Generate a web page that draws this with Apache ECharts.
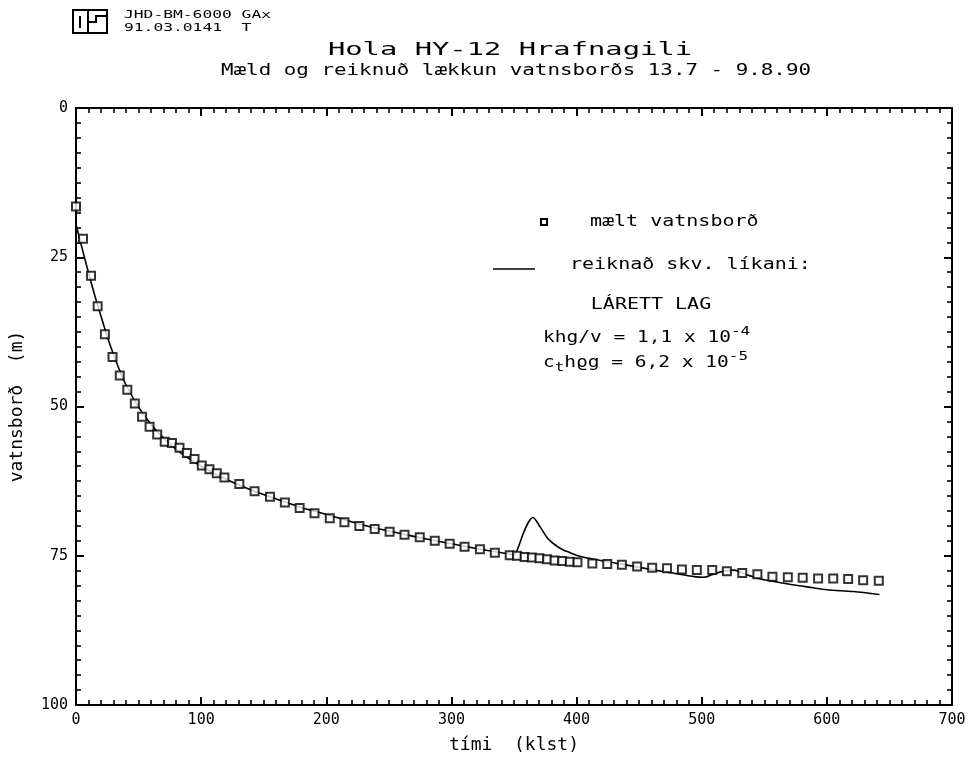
<!DOCTYPE html>
<html>
<head>
<meta charset="utf-8">
<script src="https://cdn.jsdelivr.net/npm/echarts@6/dist/echarts.min.js"></script>
<style>html,body{margin:0;padding:0;background:#fff}#c{width:971px;height:762px}</style>
</head>
<body>
<div id="c"></div>
<script>
// measured water level (time in hours, depth in m)
const timeMeasured = [0, 5.6, 12, 17.3, 23.1, 29.2, 35, 41, 47, 52.8, 58.8, 64.9, 70.9, 76.7, 82.7, 88.6, 94.7, 100.5, 106.6, 112.5, 118.6,
  130.5, 142.7, 155, 166.9, 178.7, 190.6, 202.8, 214.5, 226.4, 238.7, 250.6, 262.5, 274.7, 286.7, 298.6, 310.5, 322.8, 334.7,
  346.6, 352.4, 358.5, 364.3, 370.4, 376.5, 382.4, 388.5, 394.6, 400.7,
  412.6, 424.5, 436.2, 448.4, 460.4, 472.3, 484.2, 496.1, 508.4, 520.1, 532.4, 544.5, 556.5, 568.8, 580.7, 593, 605.1, 617, 629, 641.5];
const levelMeasured = [16.5, 21.9, 28.1, 33.2, 37.9, 41.7, 44.8, 47.2, 49.5, 51.7, 53.4, 54.7, 55.9, 56.1, 56.9, 57.8, 58.8, 59.9, 60.5, 61.2, 61.9,
  63.0, 64.2, 65.1, 66.1, 67.0, 67.9, 68.7, 69.4, 70.0, 70.5, 71.0, 71.5, 71.9, 72.5, 73.0, 73.5, 73.9, 74.5,
  74.9, 75.0, 75.2, 75.3, 75.4, 75.6, 75.8, 75.9, 76.0, 76.1,
  76.3, 76.4, 76.5, 76.8, 77.0, 77.1, 77.3, 77.4, 77.4, 77.6, 77.9, 78.1, 78.5, 78.6, 78.7, 78.8, 78.8, 78.9, 79.1, 79.2];
// computed (model) water level
const timeModel = [0, 5, 10, 15, 20, 25, 30, 35, 40, 50, 60, 70, 80, 90, 100, 120, 140, 160, 180, 200, 220, 240, 260, 280, 300, 320, 340, 350,
  353, 357, 361, 365, 371, 377, 383, 389, 395, 401, 414, 436, 462, 480, 494, 502, 508, 515, 526, 536, 547, 560, 574, 587, 600, 621, 642];
const levelModel = [19.5, 23.6, 27.6, 31.4, 34.9, 38.3, 41.3, 44.0, 46.4, 50.1, 53.0, 55.3, 57.2, 58.7, 60.0, 62.2, 64.0, 65.5, 66.9, 68.1, 69.3, 70.4, 71.3, 72.2, 73.0, 73.8, 74.5, 74.8,
  73.8, 71.5, 69.6, 68.6, 70.2, 72.1, 73.2, 74.0, 74.5, 75.0, 75.6, 76.4, 77.4, 78.0, 78.5, 78.6, 78.2, 77.7, 77.4, 78.2, 78.9, 79.4, 79.9, 80.3, 80.7, 81.0, 81.5];
const xTicks = [0, 100, 200, 300, 400, 500, 600, 700];
const yTicks = [0, 25, 50, 75, 100];

const FONT = 'DejaVu Sans Mono';
const measured = timeMeasured.map((t, i) => [t, levelMeasured[i]]);
const model = timeModel.map((t, i) => [t, levelModel[i]]);

const axisLine = { show: true, onZero: false, lineStyle: { color: '#000', width: 2 } };
const tick = { show: true, inside: true, length: 8, lineStyle: { color: '#000', width: 2 } };
const minor = { show: true, splitNumber: 10, length: 5, lineStyle: { color: '#000', width: 1.6 } };

function txt(x, y, text, size, sx, align, extra) {
  return Object.assign({ type: 'text', x: x, y: y, scaleX: sx, scaleY: 1,
    style: { text: text, font: size + 'px "DejaVu Sans Mono"', fill: '#000', align: align || 'left', verticalAlign: 'middle' } }, extra || {});
}

const chart = echarts.init(document.getElementById('c'), null, { renderer: 'canvas' });
const supStyle = { fontFamily: FONT, fontSize: 13, padding: [0, 0, 12, 0], fill: '#000' };
const subStyle = { fontFamily: FONT, fontSize: 13, padding: [10, 0, 0, 0], fill: '#000' };
chart.setOption({
  backgroundColor: '#fff',
  animation: false,
  grid: { left: 73, right: 19, top: 108, bottom: 57 },
  xAxis: [
    { type: 'value', position: 'bottom', min: xTicks[0], max: xTicks[xTicks.length - 1], interval: 100,
      axisLine, axisTick: tick, minorTick: minor, splitLine: { show: false },
      axisLabel: { color: '#000', fontFamily: FONT, fontSize: 15, margin: 8 },
      name: 'tími  (klst)', nameLocation: 'middle', nameGap: 31,
      nameTextStyle: { color: '#000', fontFamily: FONT, fontSize: 18 } },
    { type: 'value', position: 'top', min: 0, max: 700, interval: 100,
      axisLine, axisTick: tick, minorTick: minor, splitLine: { show: false }, axisLabel: { show: false } }
  ],
  yAxis: [
    { type: 'value', position: 'left', inverse: true, min: yTicks[0], max: yTicks[yTicks.length - 1], interval: 25,
      axisLine, axisTick: tick, minorTick: minor, splitLine: { show: false },
      axisLabel: { color: '#000', fontFamily: FONT, fontSize: 15, margin: 8 },
      name: 'vatnsborð  (m)', nameLocation: 'middle', nameGap: 50, nameRotate: 90,
      nameTextStyle: { color: '#000', fontFamily: FONT, fontSize: 18 } },
    { type: 'value', position: 'right', inverse: true, min: 0, max: 100, interval: 25,
      axisLine, axisTick: tick, minorTick: minor, splitLine: { show: false }, axisLabel: { show: false } }
  ],
  series: [
    { type: 'line', data: model, xAxisIndex: 0, yAxisIndex: 0, showSymbol: false, smooth: 0.3,
      lineStyle: { color: '#000', width: 1.6 }, z: 2 },
    { type: 'scatter', data: measured, xAxisIndex: 0, yAxisIndex: 0, symbol: 'rect', symbolSize: 8,
      itemStyle: { color: '#fff', borderColor: '#000', borderWidth: 2 }, z: 3 }
  ],
  graphic: [
    // header logo
    { type: 'rect', shape: { x: 73, y: 10, width: 34, height: 23 }, style: { fill: 'none', stroke: '#000', lineWidth: 2 } },
    { type: 'line', shape: { x1: 80, y1: 16, x2: 80, y2: 28 }, style: { stroke: '#000', lineWidth: 2 } },
    { type: 'line', shape: { x1: 88, y1: 10, x2: 88, y2: 33 }, style: { stroke: '#000', lineWidth: 2 } },
    { type: 'polyline', shape: { points: [[107, 16], [96, 16], [96, 22], [88, 22]] }, style: { stroke: '#000', lineWidth: 2, fill: 'none' } },
    txt(124, 15, 'JHD-BM-6000 GAx', 11, 1.48),
    txt(124, 28, '91.03.0141  T', 11, 1.48),
    // titles
    txt(510, 50, 'Hola HY-12 Hrafnagili', 18, 1.6, 'center'),
    txt(516, 71, 'Mæld og reiknuð lækkun vatnsborðs 13.7 - 9.8.90', 15, 1.39, 'center'),
    // legend
    { type: 'rect', shape: { x: 541, y: 219, width: 6, height: 6 }, style: { fill: '#fff', stroke: '#000', lineWidth: 2 } },
    txt(590, 222, 'mælt vatnsborð', 16, 1.25),
    { type: 'line', shape: { x1: 493, y1: 269, x2: 535, y2: 269 }, style: { stroke: '#000', lineWidth: 1.6 } },
    txt(570, 265, 'reiknað skv. líkani:', 16, 1.25),
    txt(651, 305, 'LÁRETT LAG', 16, 1.25, 'center'),
    { type: 'text', x: 543, y: 338, scaleX: 1.22, style: {
        text: 'khg/v = 1,1 x 10{sup|-4}', font: '16px "DejaVu Sans Mono"', fill: '#000', verticalAlign: 'middle',
        rich: { sup: supStyle } } },
    { type: 'text', x: 543, y: 363, scaleX: 1.22, style: {
        text: 'c{sub|t}hϱg = 6,2 x 10{sup|-5}', font: '16px "DejaVu Sans Mono"', fill: '#000', verticalAlign: 'middle',
        rich: { sup: supStyle, sub: subStyle } } }
  ]
});
</script>
</body>
</html>
